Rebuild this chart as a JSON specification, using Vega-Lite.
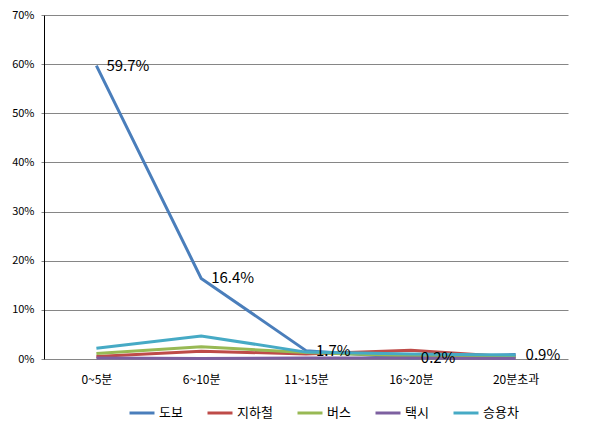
{
  "$schema": "https://vega.github.io/schema/vega-lite/v6.json",
  "autosize": {"type": "none"},
  "padding": {"left": 44, "top": 15, "right": 44, "bottom": 74},
  "width": 524,
  "height": 344,
  "background": "white",
  "config": {
    "view": {"stroke": null},
    "font": "Noto Sans CJK KR"
  },
  "data": {
    "values": [
      {"time": "0~5분", "mode": "도보", "value": 0.597},
      {"time": "6~10분", "mode": "도보", "value": 0.164},
      {"time": "11~15분", "mode": "도보", "value": 0.017},
      {"time": "16~20분", "mode": "도보", "value": 0.002},
      {"time": "20분초과", "mode": "도보", "value": 0.009},
      {"time": "0~5분", "mode": "지하철", "value": 0.005},
      {"time": "6~10분", "mode": "지하철", "value": 0.016},
      {"time": "11~15분", "mode": "지하철", "value": 0.010},
      {"time": "16~20분", "mode": "지하철", "value": 0.018},
      {"time": "20분초과", "mode": "지하철", "value": 0.004},
      {"time": "0~5분", "mode": "버스", "value": 0.011},
      {"time": "6~10분", "mode": "버스", "value": 0.025},
      {"time": "11~15분", "mode": "버스", "value": 0.013},
      {"time": "16~20분", "mode": "버스", "value": 0.006},
      {"time": "20분초과", "mode": "버스", "value": 0.003},
      {"time": "0~5분", "mode": "택시", "value": 0.002},
      {"time": "6~10분", "mode": "택시", "value": 0.001},
      {"time": "11~15분", "mode": "택시", "value": 0.002},
      {"time": "16~20분", "mode": "택시", "value": 0.002},
      {"time": "20분초과", "mode": "택시", "value": 0.001},
      {"time": "0~5분", "mode": "승용차", "value": 0.022},
      {"time": "6~10분", "mode": "승용차", "value": 0.047},
      {"time": "11~15분", "mode": "승용차", "value": 0.014},
      {"time": "16~20분", "mode": "승용차", "value": 0.010},
      {"time": "20분초과", "mode": "승용차", "value": 0.008}
    ]
  },
  "encoding": {
    "x": {
      "field": "time", "type": "ordinal", "sort": null,
      "scale": {"type": "point", "padding": 0.5},
      "axis": {
        "title": null, "labelAngle": 0, "domain": false, "ticks": false,
        "labelPadding": 15, "labelFontSize": 12, "labelColor": "black",
        "labelFont": "Noto Sans CJK KR"
      }
    },
    "y": {
      "field": "value", "type": "quantitative",
      "scale": {"domain": [0, 0.7], "nice": false},
      "axis": {
        "title": null, "format": ".0%", "values": [0, 0.1, 0.2, 0.3, 0.4, 0.5, 0.6, 0.7],
        "domainColor": "black", "domainWidth": 1, "tickColor": "#868686", "tickSize": 3,
        "gridColor": "#868686", "gridWidth": 1, "labelFontSize": 11, "labelColor": "black",
        "labelPadding": 7, "labelFont": "Noto Sans CJK KR"
      }
    }
  },
  "layer": [
    {
      "mark": {"type": "line", "strokeWidth": 3},
      "encoding": {
        "color": {
          "field": "mode", "type": "nominal",
          "scale": {
            "domain": ["도보", "지하철", "버스", "택시", "승용차"],
            "range": ["#4A7EBB", "#BE4B48", "#98B954", "#7D60A0", "#46AAC5"]
          },
          "legend": {
            "title": null, "orient": "none", "legendX": 84, "legendY": 384, "direction": "horizontal",
            "symbolType": "stroke", "symbolSize": 625, "symbolStrokeWidth": 3,
            "labelFontSize": 13, "labelColor": "black",
            "columnPadding": 18, "labelOffset": 3
          }
        }
      }
    },
    {
      "transform": [{"filter": "datum.mode === '도보'"}],
      "mark": {"type": "text", "align": "left", "baseline": "middle", "dx": 10, "fontSize": 15, "color": "black"},
      "encoding": {
        "text": {"field": "value", "type": "quantitative", "format": ".1%"}
      }
    }
  ]
}
